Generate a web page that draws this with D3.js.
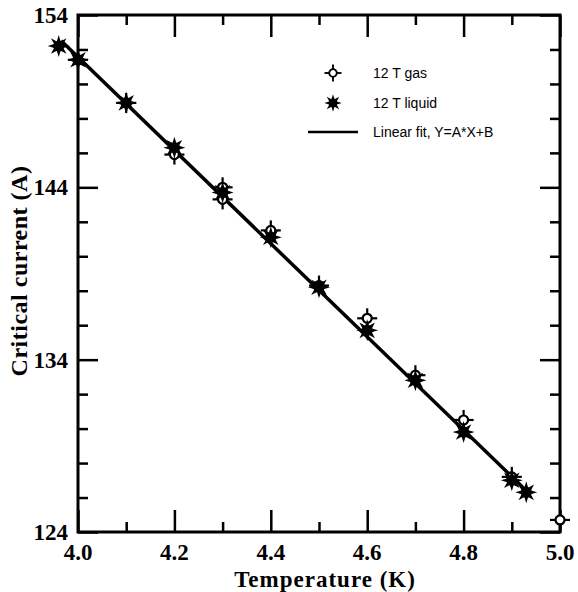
<!DOCTYPE html>
<html>
<head>
<meta charset="utf-8">
<script src="https://cdn.jsdelivr.net/npm/d3@7"></script>
<style>
  body { margin: 0; background: #fff; }
  svg { display: block; }
</style>
</head>
<body>
<script>
// values
var gasT = [4.0, 4.1, 4.2, 4.3, 4.3, 4.4, 4.5, 4.6, 4.7, 4.8, 4.9, 5.0];
var gasI = [151.4, 148.9, 145.9, 143.3, 144.0, 141.5, 138.3, 136.4, 133.1, 130.5, 127.2, 124.7];
var liqT = [3.96, 4.0, 4.1, 4.2, 4.3, 4.4, 4.5, 4.6, 4.7, 4.8, 4.9, 4.93];
var liqI = [152.2, 151.4, 148.9, 146.3, 143.7, 141.1, 138.2, 135.7, 132.8, 129.8, 127.0, 126.3];
var fitT = [3.965, 4.93];
var fitI = [152.5, 126.4];

var xMajor = [4.0, 4.2, 4.4, 4.6, 4.8, 5.0];
var xMinor = [4.1, 4.3, 4.5, 4.7, 4.9];
var yMajor = [124, 134, 144, 154];
var yMinor = [126, 128, 130, 132, 136, 138, 140, 142, 146, 148, 150, 152];

var legendLabels = ['12 T gas', '12 T liquid', 'Linear fit, Y=A*X+B'];

var W = 578, H = 592;
var L = 78, R = 560, T = 15, B = 532;

var x = d3.scaleLinear().domain([4.0, 5.0]).range([L, R]);
var y = d3.scaleLinear().domain([124, 154]).range([B, T]);

var svg = d3.select('body').append('svg')
  .attr('width', W)
  .attr('height', H);

var serif = '"Liberation Serif", "Times New Roman", serif';

// ticks (inward, all four sides)
function tickAxis(axis, vals, size, tx, ty) {
  var g = svg.append('g')
    .attr('transform', 'translate(' + tx + ',' + ty + ')')
    .call(axis.tickValues(vals).tickSize(-size).tickFormat(''));
  g.select('.domain').remove();
  g.selectAll('.tick line').attr('stroke', '#000').attr('stroke-width', 2.5);
  return g;
}
tickAxis(d3.axisBottom(x), xMajor, 22, 0, B);
tickAxis(d3.axisBottom(x), xMinor, 10, 0, B);
tickAxis(d3.axisTop(x), xMajor, 22, 0, T);
tickAxis(d3.axisTop(x), xMinor, 10, 0, T);
tickAxis(d3.axisLeft(y), yMajor, 20, L, 0);
tickAxis(d3.axisLeft(y), yMinor, 10, L, 0);
tickAxis(d3.axisRight(y), yMajor, 20, R, 0);
tickAxis(d3.axisRight(y), yMinor, 10, R, 0);

// frame
svg.append('rect')
  .attr('x', L).attr('y', T)
  .attr('width', R - L).attr('height', B - T)
  .attr('fill', 'none')
  .attr('stroke', '#000')
  .attr('stroke-width', 3);

// tick labels
svg.append('g').selectAll('text')
  .data(xMajor)
  .enter().append('text')
  .attr('x', function (d) { return x(d); })
  .attr('y', 560)
  .attr('text-anchor', 'middle')
  .style('font', 'bold 23px ' + serif)
  .text(function (d) { return d.toFixed(1); });

svg.append('g').selectAll('text')
  .data(yMajor)
  .enter().append('text')
  .attr('x', 68)
  .attr('y', function (d) { return y(d) + 8; })
  .attr('text-anchor', 'end')
  .style('font', 'bold 23px ' + serif)
  .text(function (d) { return d; });

// axis titles
svg.append('text')
  .attr('x', 325).attr('y', 587)
  .attr('text-anchor', 'middle')
  .style('font', 'bold 23px ' + serif)
  .style('letter-spacing', '1px')
  .text('Temperature (K)');

svg.append('text')
  .attr('transform', 'translate(27,271) rotate(-90)')
  .attr('text-anchor', 'middle')
  .style('font', 'bold 24px ' + serif)
  .style('letter-spacing', '0.5px')
  .text('Critical current (A)');

// markers
function gasMarker(g) {
  g.append('line').attr('x1', 0).attr('x2', 0).attr('y1', -10).attr('y2', 10);
  g.append('line').attr('x1', -10).attr('x2', 10).attr('y1', 0).attr('y2', 0);
  g.selectAll('line').attr('stroke', '#000').attr('stroke-width', 2.2);
  g.append('circle').attr('r', 4.5).attr('fill', '#fff')
    .attr('stroke', '#000').attr('stroke-width', 2.2);
}
function starPath(ro, ri, n) {
  var pts = [];
  for (var i = 0; i < 2 * n; i++) {
    var a = Math.PI * i / n - Math.PI / 2;
    var r = i % 2 === 0 ? ro : ri;
    pts.push([r * Math.cos(a), r * Math.sin(a)]);
  }
  return 'M' + pts.join('L') + 'Z';
}
function liqMarker(g) {
  g.append('path').attr('d', starPath(11, 5, 8)).attr('fill', '#000');
  g.append('circle').attr('r', 5.5).attr('fill', '#000');
}

// fit line
var line = d3.line()
  .x(function (d) { return x(d[0]); })
  .y(function (d) { return y(d[1]); });
svg.append('path')
  .datum(d3.zip(fitT, fitI))
  .attr('d', line)
  .attr('fill', 'none')
  .attr('stroke', '#000')
  .attr('stroke-width', 3.5);

svg.append('g').selectAll('g')
  .data(d3.zip(gasT, gasI))
  .enter().append('g')
  .attr('transform', function (d) { return 'translate(' + x(d[0]) + ',' + y(d[1]) + ')'; })
  .each(function () { gasMarker(d3.select(this)); });

svg.append('g').selectAll('g')
  .data(d3.zip(liqT, liqI))
  .enter().append('g')
  .attr('transform', function (d) { return 'translate(' + x(d[0]) + ',' + y(d[1]) + ')'; })
  .each(function () { liqMarker(d3.select(this)); });

// legend
var lg = svg.append('g');
gasMarker(lg.append('g').attr('transform', 'translate(333,73) scale(0.85)'));
liqMarker(lg.append('g').attr('transform', 'translate(333,103) scale(0.8)'));
lg.append('line')
  .attr('x1', 308).attr('x2', 358).attr('y1', 132).attr('y2', 132)
  .attr('stroke', '#000').attr('stroke-width', 2.5);
lg.selectAll('text')
  .data(legendLabels)
  .enter().append('text')
  .attr('x', 373)
  .attr('y', function (d, i) { return 78 + i * 29.5; })
  .style('font', '14px "Liberation Sans", Arial, sans-serif')
  .text(function (d) { return d; });
</script>
</body>
</html>
